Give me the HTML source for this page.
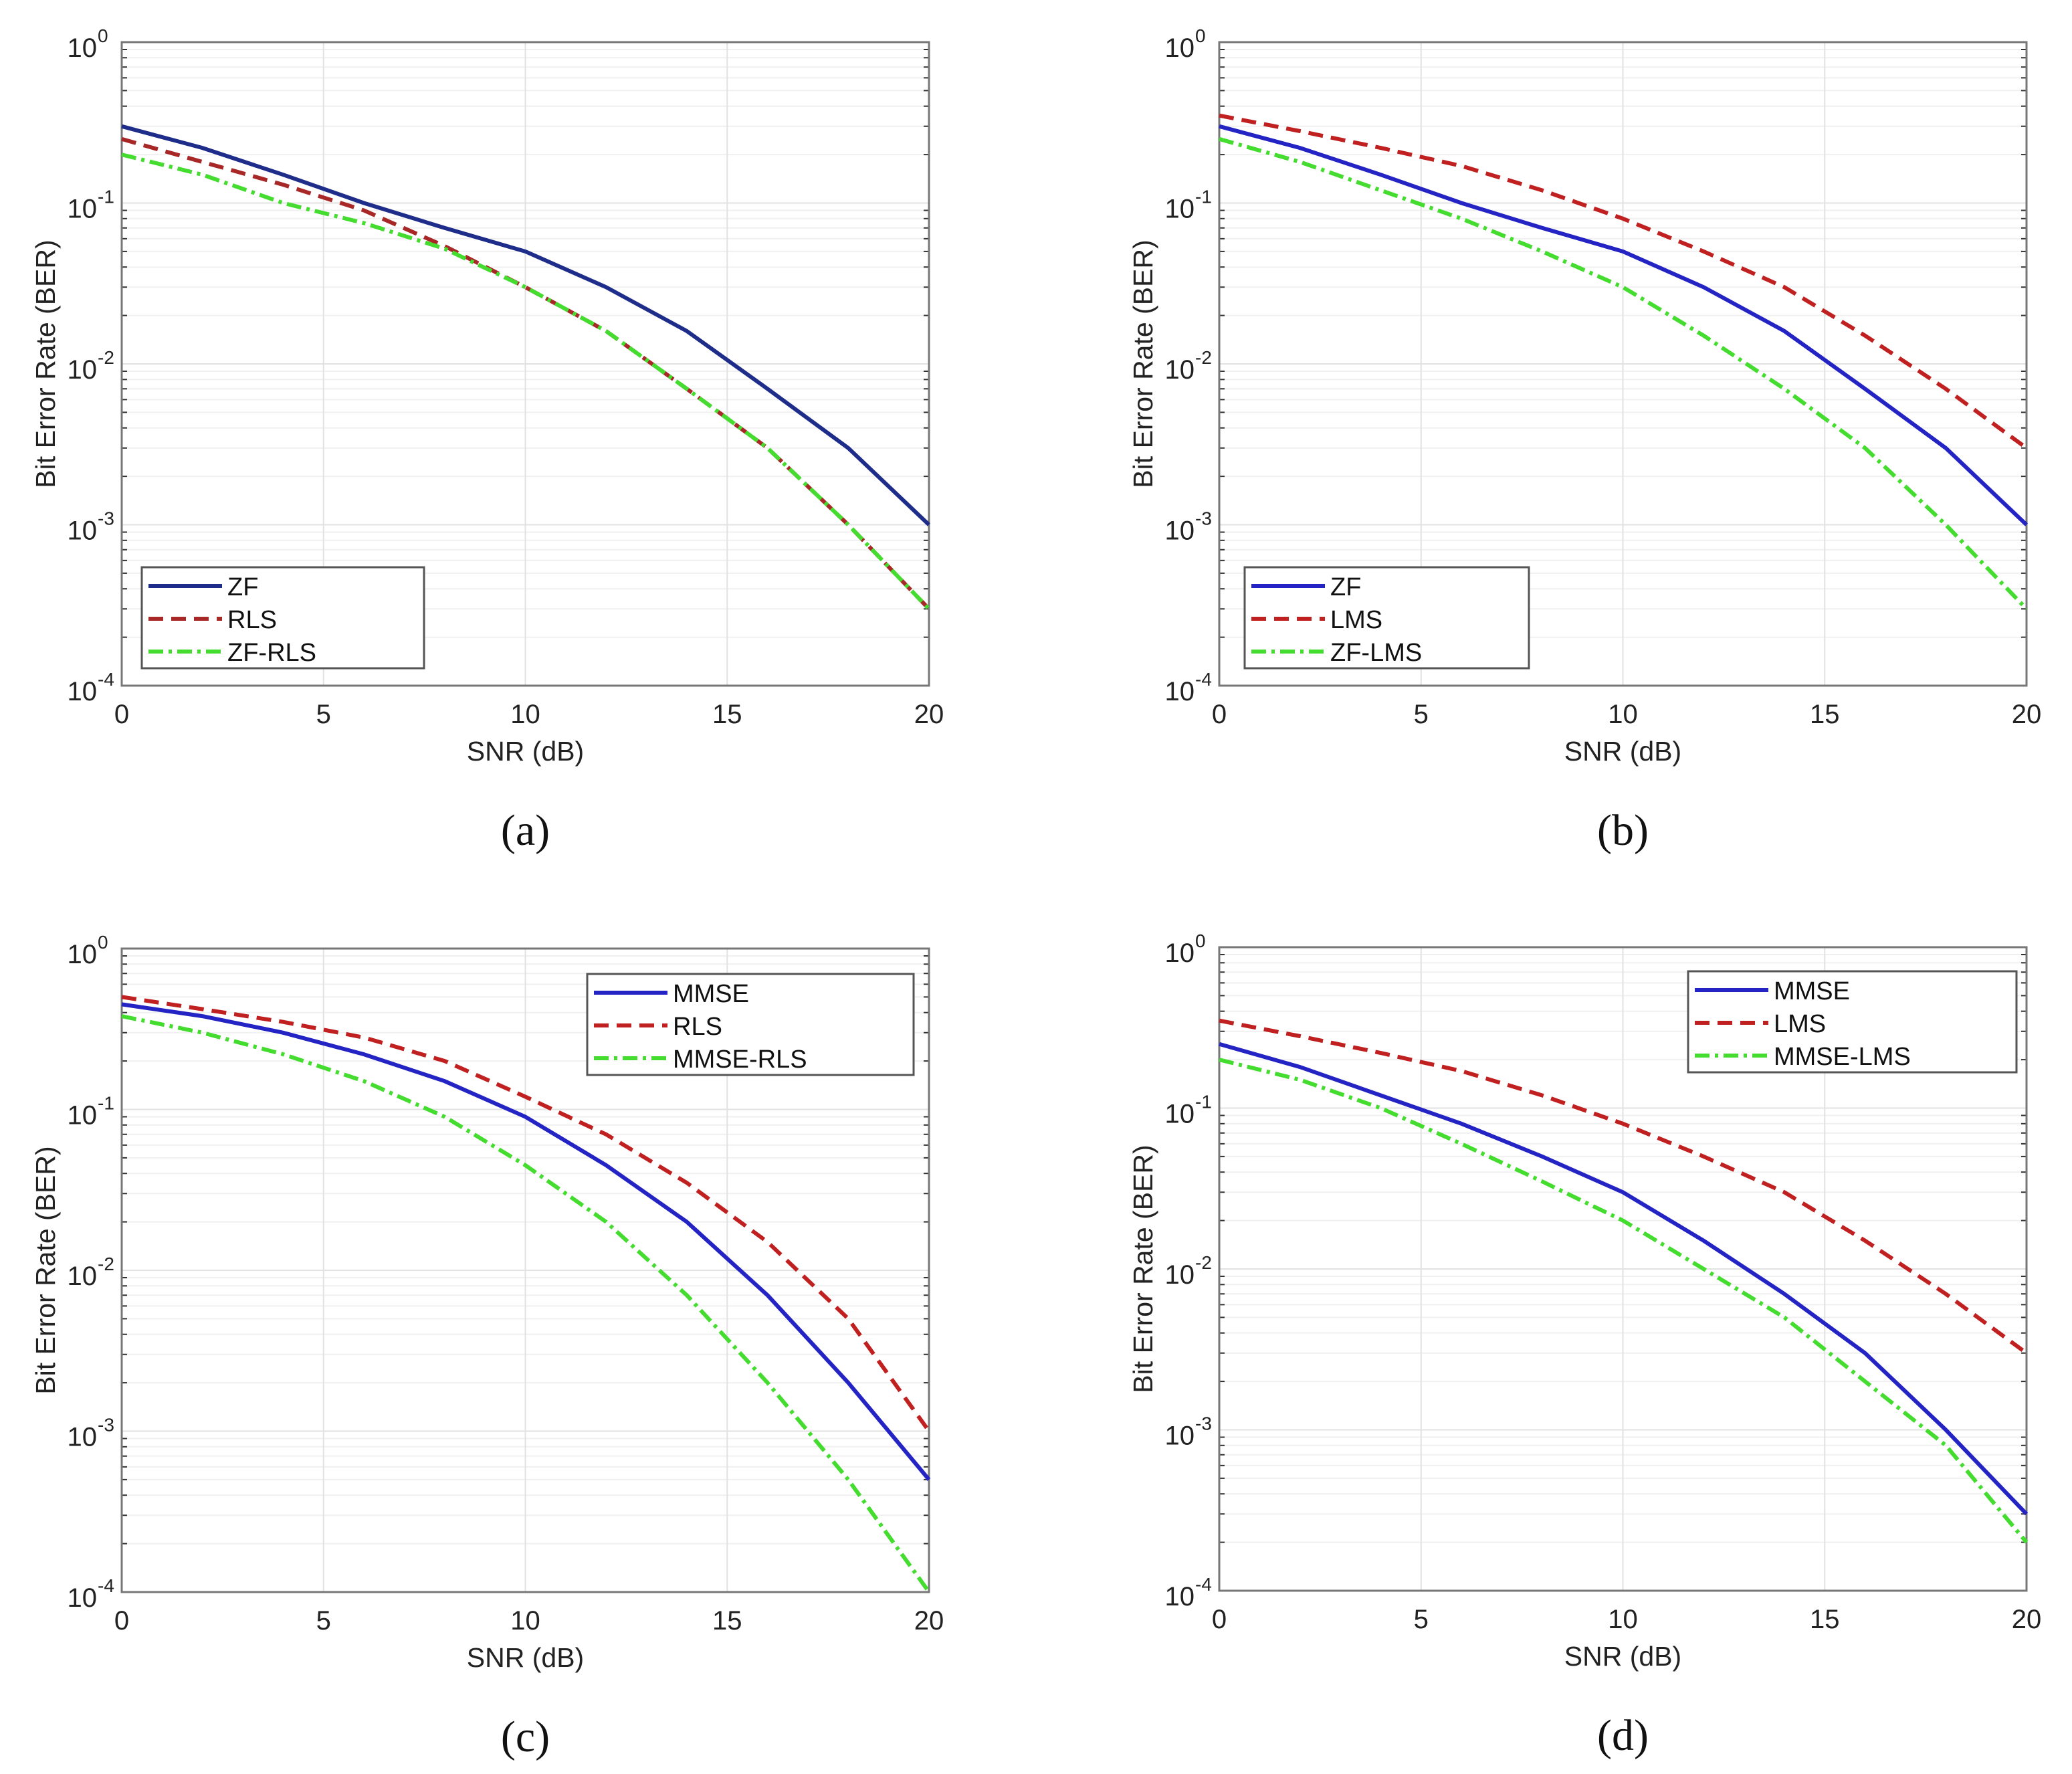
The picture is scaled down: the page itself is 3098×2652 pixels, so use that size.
<!DOCTYPE html>
<html><head><meta charset="utf-8"><style>
html,body{margin:0;padding:0;background:#fff;}
svg{display:block;font-family:"Liberation Sans",sans-serif;}
</style></head>
<body>
<svg id="fig" width="3098" height="2652" viewBox="0 0 3098 2652" xmlns="http://www.w3.org/2000/svg"></svg>
<script>
const snr = [0,2,4,6,8,10,12,14,16,18,20];
const xTicks = [0,5,10,15,20];
const yExps = [0,-1,-2,-3,-4];
// panel a
const aZF    = [0.3,0.22,0.15,0.1,0.07,0.05,0.03,0.016,0.007,0.003,0.001];
const aRLS   = [0.25,0.18,0.13,0.09,0.054,0.03,0.016,0.007,0.003,0.001,0.0003];
const aZFRLS = [0.2,0.15,0.1,0.075,0.052,0.03,0.016,0.007,0.003,0.001,0.0003];
// panel b
const bZF    = [0.3,0.22,0.15,0.1,0.07,0.05,0.03,0.016,0.007,0.003,0.001];
const bLMS   = [0.35,0.28,0.22,0.17,0.12,0.08,0.05,0.03,0.015,0.007,0.003];
const bZFLMS = [0.25,0.18,0.12,0.08,0.05,0.03,0.015,0.007,0.003,0.001,0.0003];
// panel c
const cMMSE    = [0.45,0.38,0.3,0.22,0.15,0.09,0.045,0.02,0.007,0.002,0.0005];
const cRLS     = [0.5,0.42,0.35,0.28,0.2,0.12,0.07,0.035,0.015,0.005,0.001];
const cMMSERLS = [0.38,0.3,0.22,0.15,0.09,0.045,0.02,0.007,0.002,0.0005,0.0001];
// panel d
const dMMSE    = [0.25,0.18,0.12,0.08,0.05,0.03,0.015,0.007,0.003,0.001,0.0003];
const dLMS     = [0.35,0.28,0.22,0.17,0.12,0.08,0.05,0.03,0.015,0.007,0.003];
const dMMSELMS = [0.2,0.15,0.1,0.06,0.035,0.02,0.01,0.005,0.002,0.0008,0.0002];

const NS="http://www.w3.org/2000/svg";
const svg=document.getElementById('fig');
function mk(tag,attrs,parent){const e=document.createElementNS(NS,tag);for(const k in attrs)e.setAttribute(k,attrs[k]);(parent||svg).appendChild(e);return e;}

const BLUE='#2424c4', NAVY='#1f2d8a', RED='#c02020', DRED='#a82828', GREEN='#45dc30';
const panels=[
 {id:'a',L:182,R:1389,T:63,B:1025,leg:[212,848,422,151],series:[
   {n:'ZF',d:aZF,c:NAVY,dash:''},{n:'RLS',d:aRLS,c:DRED,dash:'22 12'},{n:'ZF-RLS',d:aZFRLS,c:GREEN,dash:'22 8 5 8'}]},
 {id:'b',L:1823,R:3030,T:63,B:1025,leg:[1861,848,425,151],series:[
   {n:'ZF',d:bZF,c:BLUE,dash:''},{n:'LMS',d:bLMS,c:RED,dash:'22 12'},{n:'ZF-LMS',d:bZFLMS,c:GREEN,dash:'22 8 5 8'}]},
 {id:'c',L:182,R:1389,T:1418,B:2380,leg:[878,1456,488,151],series:[
   {n:'MMSE',d:cMMSE,c:BLUE,dash:''},{n:'RLS',d:cRLS,c:RED,dash:'22 12'},{n:'MMSE-RLS',d:cMMSERLS,c:GREEN,dash:'22 8 5 8'}]},
 {id:'d',L:1823,R:3030,T:1416,B:2378,leg:[2524,1452,491,151],series:[
   {n:'MMSE',d:dMMSE,c:BLUE,dash:''},{n:'LMS',d:dLMS,c:RED,dash:'22 12'},{n:'MMSE-LMS',d:dMMSELMS,c:GREEN,dash:'22 8 5 8'}]}
];

panels.forEach(p=>{
  const g=mk('g',{});
  
  
  const xs=v=>p.L+(v-0)/(20-0)*(p.R-p.L);
  const ys=v=>p.T+(0-Math.log10(v))/4*(p.B-p.T);
  for(let e=0;e>-4;e--){for(let m=2;m<=9;m++){const y=ys(m*Math.pow(10,e-1));
    const l=mk('line',{x1:p.L,x2:p.R,y1:y,y2:y,stroke:'#f0f0f0','stroke-width':2},g);
    
    mk('line',{x1:p.L,x2:p.L+8,y1:y,y2:y,stroke:'#333','stroke-width':2},g);
    mk('line',{x1:p.R,x2:p.R-8,y1:y,y2:y,stroke:'#333','stroke-width':2},g);}}
  xTicks.forEach(t=>{const x=xs(t);
    const l=mk('line',{x1:x,x2:x,y1:p.T,y2:p.B,stroke:'#e2e2e2','stroke-width':2},g);
    
    const tx=mk('text',{x:x,y:p.B+56,'font-size':40,'text-anchor':'middle',fill:'#222'},g);tx.textContent=t;
    });
  yExps.forEach(e=>{const y=ys(Math.pow(10,e));
    const l=mk('line',{x1:p.L,x2:p.R,y1:y,y2:y,stroke:'#e2e2e2','stroke-width':2},g);
    
    const tx=mk('text',{x:p.L-37,y:y+22,'font-size':40,'text-anchor':'end',fill:'#222'},g);
    tx.textContent='10';
    
    const ex=mk('text',{x:p.L-36,y:y,'font-size':28,'text-anchor':'start',fill:'#222'},g);
    ex.textContent=String(e);
    });
  const fr=mk('rect',{x:p.L,y:p.T,width:p.R-p.L,height:p.B-p.T,fill:'none',stroke:'#777','stroke-width':3},g);
  
  p.series.forEach(s=>{
    const pts=snr.map((x,i)=>xs(x).toFixed(1)+','+ys(s.d[i]).toFixed(1)).join(' ');
    const pl=mk('polyline',{points:pts,fill:'none',stroke:s.c,'stroke-width':6,'stroke-dasharray':s.dash},g);
    
    
  });
  const [lx,ly,lw,lh]=p.leg;
  const lg=mk('g',{},g);
  
  mk('rect',{x:lx,y:ly,width:lw,height:lh,fill:'#fff',stroke:'#555','stroke-width':3},lg);
  p.series.forEach((s,i)=>{const y=ly+28+i*49;
    const ln=mk('line',{x1:lx+10,x2:lx+120,y1:y,y2:y,stroke:s.c,'stroke-width':6,'stroke-dasharray':s.dash},lg);
    
    const t=mk('text',{x:lx+128,y:y+14,'font-size':38,fill:'#111'},lg);t.textContent=s.n;
    });
  const cx=(p.L+p.R)/2;
  const xl=mk('text',{x:cx,y:p.B+112,'font-size':41,'text-anchor':'middle',fill:'#222'},g);xl.textContent='SNR (dB)';
  
  const cy=(p.T+p.B)/2;
  const yl=mk('text',{x:0,y:0,'font-size':41,'text-anchor':'middle',fill:'#222',transform:'translate('+(p.L-100)+' '+cy+') rotate(-90)'},g);
  yl.textContent='Bit Error Rate (BER)';
  
  const sl=mk('text',{x:cx,y:p.B+238,'font-size':66,'text-anchor':'middle',fill:'#111','font-family':'Liberation Serif, serif'},g);
  sl.textContent='('+p.id+')';
  
});
</script>
</body></html>
